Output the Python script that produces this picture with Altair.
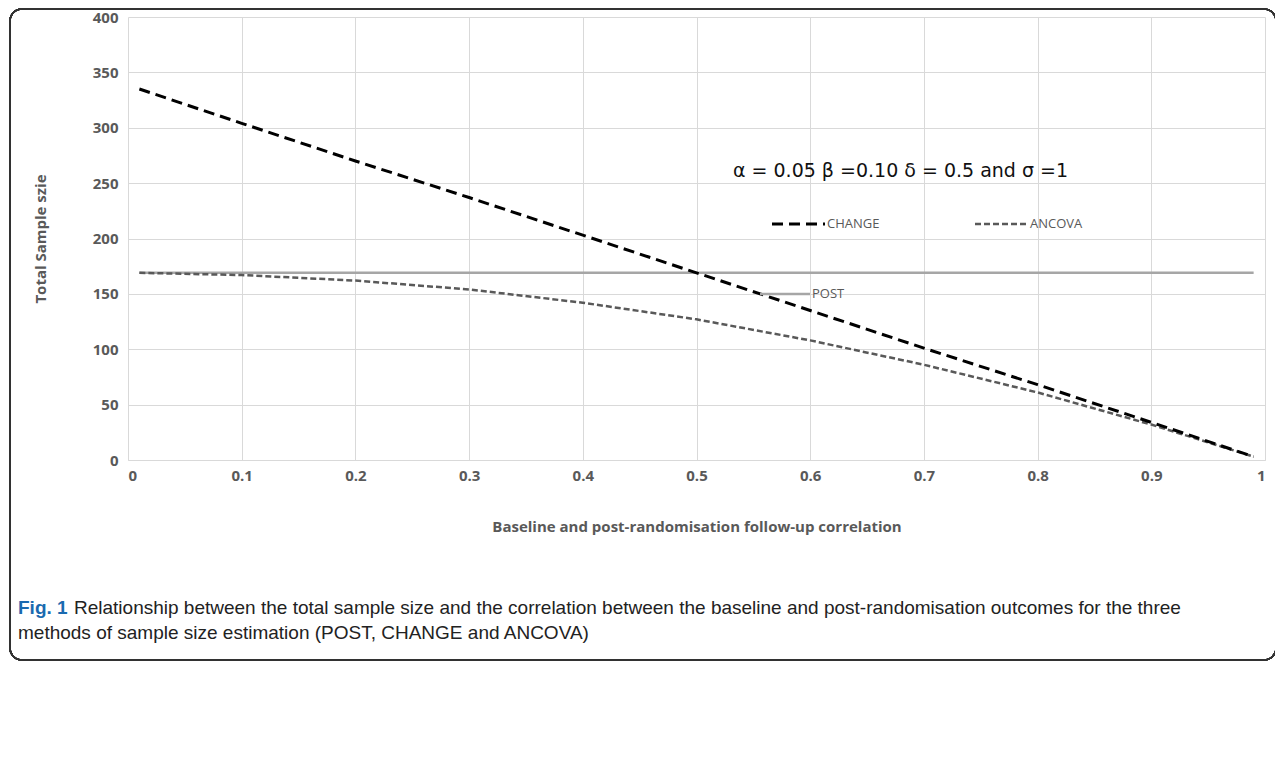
import altair as alt
import pandas as pd

corr = [0.01, 0.1, 0.2, 0.3, 0.4, 0.5, 0.6, 0.7, 0.8, 0.9, 0.99]
change = [335, 304, 270, 237, 203, 169, 135, 101, 68, 34, 3]
ancova = [169, 167, 162, 154, 142, 127, 108, 86, 61, 32, 3]
post = [169] * len(corr)

W, H = 1137, 443
FONT = "Open Sans"

df = pd.DataFrame({"r": corr, "CHANGE": change, "ANCOVA": ancova, "POST": post})

base = alt.Chart(df).encode(
    x=alt.X("r:Q", scale=alt.Scale(domain=[0, 1], nice=False),
            axis=alt.Axis(values=[i / 10 for i in range(11)], labelExpr="datum.value == 0 ? '0' : datum.value == 1 ? '1' : format(datum.value, '.1f')",
                          title="Baseline and post-randomisation  follow-up correlation",
                          titlePadding=36, labelPadding=8)),
)

yax = alt.Axis(values=list(range(0, 401, 50)), title="Total Sample szie", titlePadding=44, labelPadding=10)

post_line = base.mark_line(color="#a6a6a6", strokeWidth=2.5).encode(
    y=alt.Y("POST:Q", scale=alt.Scale(domain=[0, 400]), axis=yax))
ancova_line = base.mark_line(color="#595959", strokeWidth=2.5, strokeDash=[6, 3]).encode(y="ANCOVA:Q")
change_line = base.mark_line(color="#000000", strokeWidth=3, strokeDash=[11, 6]).encode(y="CHANGE:Q")

frame = alt.Chart(df).mark_rect(fill=None, stroke="#333", strokeWidth=1.5, cornerRadius=12).encode(
    x=alt.value(-118), x2=alt.value(W + 11), y=alt.value(-8), y2=alt.value(643))


def txt(s, x, y, size=13, weight="normal", color="#595959", font=FONT):
    return alt.Chart(df.head(1)).mark_text(text=s, align="left", baseline="middle", fontSize=size,
                                           fontWeight=weight, color=color, font=font).encode(
        x=alt.value(x), y=alt.value(y))


def seg(x1, x2, y, color, width, dash):
    return alt.Chart(df.head(1)).mark_rule(color=color, strokeWidth=width, strokeDash=dash).encode(
        x=alt.value(x1), x2=alt.value(x2), y=alt.value(y))


CAP = "Liberation Sans"
legend = [
    txt("α = 0.05 β =0.10 δ = 0.5 and σ =1", 605, 154, size=19, color="#111", font="DejaVu Sans"),
    seg(644, 697, 207, "#000", 3, [11, 6]), txt("CHANGE", 699, 207),
    seg(847, 900, 207, "#595959", 2.5, [6, 3]), txt("ANCOVA", 902, 207),
    seg(632, 682, 277, "#a6a6a6", 2.5, []), txt("POST", 684, 277),
    txt("Fig. 1", -110, 591, size=19, weight="bold", color="#1a6ab0", font=CAP),
    txt("Relationship between the total sample size and the correlation between the baseline and post-randomisation outcomes for the three",
        -54, 591, size=19, color="#222", font=CAP),
    txt("methods of sample size estimation (POST, CHANGE and ANCOVA)", -110, 616, size=19, color="#222", font=CAP),
]

chart = alt.layer(frame, post_line, ancova_line, change_line, *legend).properties(
    width=W, height=H, autosize="none",
    padding={"left": 120, "top": 9, "right": 10, "bottom": 300},
).configure_view(stroke=None).configure_axis(
    gridColor="#d9d9d9", domain=False, ticks=False, labelColor="#595959", labelFontSize=15,
    labelFontWeight="bold", labelFont=FONT, titleFont=FONT, titleFontSize=15, titleColor="#595959",
    titleFontWeight="bold",
).configure_axisX(domain=True, domainColor="#d9d9d9")

chart.save("out.html", embed_options={"renderer": "svg", "actions": False})
